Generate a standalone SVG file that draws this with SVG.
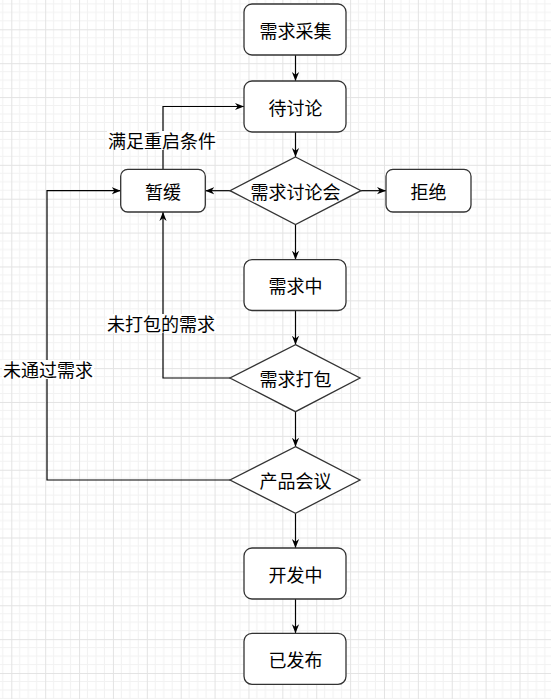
<svg xmlns="http://www.w3.org/2000/svg" width="551" height="699" viewBox="0 0 551 699">
<defs>
<pattern id="grid" patternUnits="userSpaceOnUse" x="11.3" y="29.3" width="33.88" height="33.88">
<rect width="33.88" height="33.88" fill="#ffffff"/>
<path d="M8.47,0V33.88M16.94,0V33.88M25.41,0V33.88M0,8.47H33.88M0,16.94H33.88M0,25.41H33.88" stroke="#f2f2f2" stroke-width="1" fill="none"/>
<path d="M0.5,0V33.88M0,0.5H33.88" stroke="#e3e3e3" stroke-width="1" fill="none"/>
</pattern>
<marker id="arr" viewBox="0 0 10 10" refX="10" refY="5" markerWidth="9" markerHeight="9" markerUnits="userSpaceOnUse" orient="auto">
<path d="M0,1 L10,5 L0,9 L3,5 Z" fill="#000"/>
</marker>
</defs>
<style>
.box{fill:#ffffff;stroke:#333333;stroke-width:1.3}
.t{font-family:"Noto Sans CJK SC","Noto Sans",sans-serif;font-size:18px;fill:#000;text-anchor:middle;dominant-baseline:central}
.e{fill:none;stroke:#000;stroke-width:1.2;marker-end:url(#arr)}
.lbg{fill:#ffffff}
</style>
<rect width="551" height="699" fill="url(#grid)"/>
<g id="connectors">
<path class="e" d="M295.5,55 V81"/>
<path class="e" d="M295.5,132 V157"/>
<path class="e" d="M231,190.7 H205.3"/>
<path class="e" d="M361,190.7 H386"/>
<path class="e" d="M295.5,224.5 V259.7"/>
<path class="e" d="M163,169.3 V106.5 H244"/>
<path class="e" d="M295.5,310.5 V344.7"/>
<path class="e" d="M230,378 H163 V212"/>
<path class="e" d="M295.5,411.7 V446.7"/>
<path class="e" d="M230,480 H47 V190.7 H120.7"/>
<path class="e" d="M295.5,513.3 V548"/>
<path class="e" d="M295.5,599 V633.3"/>
<g id="label-restart"><rect class="lbg" x="107" y="131" width="110" height="19"/><text class="t" x="162" y="140">满足重启条件</text></g>
<g id="label-unpacked"><rect class="lbg" x="107" y="314" width="110" height="19"/><text class="t" x="161" y="323">未打包的需求</text></g>
<g id="label-rejected"><rect class="lbg" x="2" y="360" width="92" height="19"/><text class="t" x="48" y="369">未通过需求</text></g>
</g>
<g id="collect"><rect class="box" x="244" y="4" width="102" height="51" rx="8"/><text class="t" x="295.5" y="29.5">需求采集</text></g>
<g id="pending"><rect class="box" x="244" y="81" width="102" height="51" rx="8"/><text class="t" x="295.5" y="106.5">待讨论</text></g>
<g id="meeting"><polygon class="box" points="295.5,157 361,190.7 295.5,224.5 230,190.7"/><text class="t" x="295.5" y="190.7">需求讨论会</text></g>
<g id="hold"><rect class="box" x="120.7" y="169.3" width="84.6" height="42.7" rx="7"/><text class="t" x="163" y="190.7">暂缓</text></g>
<g id="reject"><rect class="box" x="386" y="169.3" width="85" height="42.7" rx="7"/><text class="t" x="428.5" y="190.7">拒绝</text></g>
<g id="inprogress"><rect class="box" x="244" y="259.7" width="102" height="50.8" rx="8"/><text class="t" x="295.5" y="285">需求中</text></g>
<g id="package"><polygon class="box" points="295.5,344.7 360,378 295.5,411.7 230,378"/><text class="t" x="295.5" y="378">需求打包</text></g>
<g id="review"><polygon class="box" points="295.5,446.7 360,480 295.5,513.3 230,480"/><text class="t" x="295.5" y="480">产品会议</text></g>
<g id="dev"><rect class="box" x="244" y="548" width="102" height="51" rx="8"/><text class="t" x="295.5" y="573.5">开发中</text></g>
<g id="released"><rect class="box" x="244" y="633.3" width="102" height="51" rx="8"/><text class="t" x="295.5" y="658.8">已发布</text></g>
</svg>
